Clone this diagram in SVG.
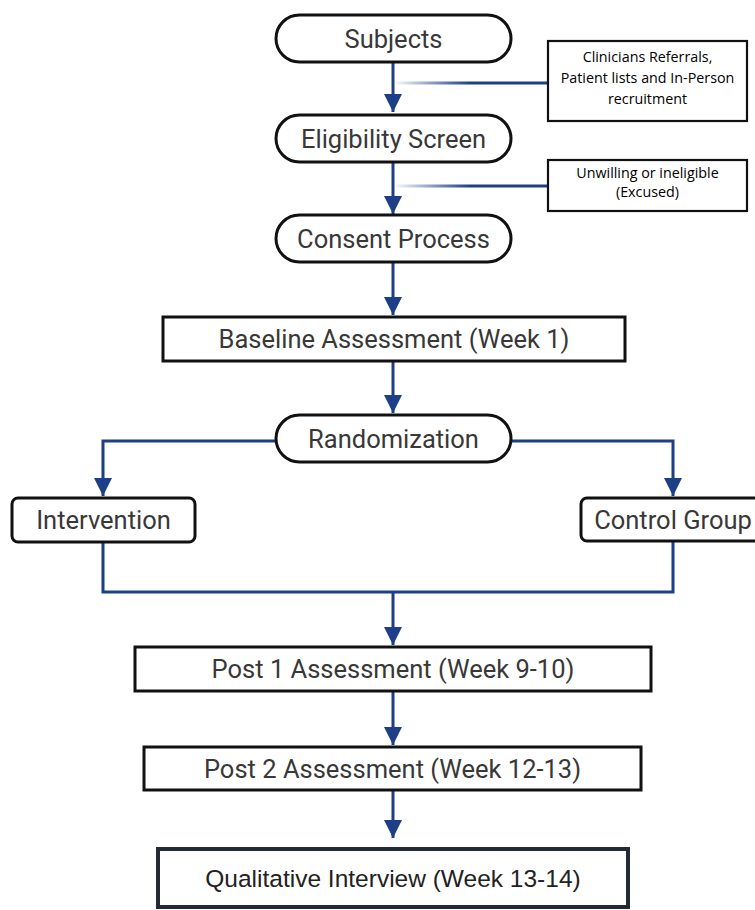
<svg xmlns="http://www.w3.org/2000/svg" width="755" height="910" viewBox="0 0 755 910">
<style>
.pill{fill:#fff;stroke:#111;stroke-width:3}
.box{fill:#fff;stroke:#111;stroke-width:3}
.note{fill:#fff;stroke:#111;stroke-width:2.2}
.lbl{font-family:Roboto,"Liberation Sans",sans-serif;font-size:25.5px;fill:#383838;text-anchor:middle;dominant-baseline:central}
.nt{font-family:"Open Sans","Noto Sans",sans-serif;font-size:14.3px;fill:#000;text-anchor:middle}
.ar{fill:none;stroke:#1d3f87;stroke-width:3}
.ln{fill:none;stroke:#1d3f87;stroke-width:3}
</style>
<defs>
<marker id="ah" viewBox="0 0 10 10" refX="10" refY="5" markerWidth="6" markerHeight="6" markerUnits="strokeWidth" orient="auto">
<path d="M0,0 L10,5 L0,10 z" fill="#1d3f87"/>
</marker>
<linearGradient id="fade" gradientUnits="userSpaceOnUse" x1="396" y1="0" x2="470" y2="0">
<stop offset="0" stop-color="#1d3f87" stop-opacity="0.05"/>
<stop offset="1" stop-color="#1d3f87" stop-opacity="1"/>
</linearGradient>
</defs>
<g id="connectors">
<line class="ar" x1="393" y1="62" x2="393" y2="112" marker-end="url(#ah)"/>
<line x1="396" y1="83" x2="548" y2="83" stroke="url(#fade)" stroke-width="3"/>
<line class="ar" x1="393" y1="162" x2="393" y2="214" marker-end="url(#ah)"/>
<line x1="396" y1="186" x2="548" y2="186" stroke="url(#fade)" stroke-width="3"/>
<line class="ar" x1="393" y1="262" x2="393" y2="315" marker-end="url(#ah)"/>
<line class="ar" x1="393" y1="361" x2="393" y2="413" marker-end="url(#ah)"/>
<polyline class="ar" points="276,441 103,441 103,496" marker-end="url(#ah)"/>
<polyline class="ar" points="511,441 673,441 673,496" marker-end="url(#ah)"/>
<polyline class="ln" points="103,542 103,592 673,592 673,541"/>
<line class="ar" x1="393" y1="592" x2="393" y2="645" marker-end="url(#ah)"/>
<line class="ar" x1="393" y1="691" x2="393" y2="745" marker-end="url(#ah)"/>
<line class="ar" x1="393" y1="790" x2="393" y2="838" marker-end="url(#ah)"/>
</g>
<g id="subjects">
<rect class="pill" x="276" y="15" width="235" height="47" rx="23.5"/>
<text class="lbl" x="393.5" y="39">Subjects</text>
</g>
<g id="recruitment">
<rect class="note" x="548" y="41" width="199" height="80"/>
<text class="nt" x="647.5" y="62">Clinicians Referrals,</text>
<text class="nt" x="647.5" y="83">Patient lists and In-Person</text>
<text class="nt" x="647.5" y="104">recruitment</text>
</g>
<g id="eligibility">
<rect class="pill" x="276" y="115" width="235" height="47" rx="23.5"/>
<text class="lbl" x="393.5" y="138.5">Eligibility Screen</text>
</g>
<g id="excused">
<rect class="note" x="548" y="160" width="199" height="51"/>
<text class="nt" x="647.5" y="178">Unwilling or ineligible</text>
<text class="nt" x="647.5" y="197">(Excused)</text>
</g>
<g id="consent">
<rect class="pill" x="276" y="215" width="235" height="47" rx="23.5"/>
<text class="lbl" x="393.5" y="238.5">Consent Process</text>
</g>
<g id="baseline">
<rect class="box" x="163" y="317" width="462" height="44"/>
<text class="lbl" x="394" y="339">Baseline Assessment (Week 1)</text>
</g>
<g id="randomization">
<rect class="pill" x="276" y="415" width="235" height="47" rx="23.5"/>
<text class="lbl" x="393.5" y="438.5">Randomization</text>
</g>
<g id="intervention">
<rect class="pill" x="12" y="498" width="183" height="44" rx="6"/>
<text class="lbl" x="103.5" y="520">Intervention</text>
</g>
<g id="control">
<rect class="pill" x="581" y="498" width="190" height="43" rx="6"/>
<text class="lbl" x="673" y="520">Control Group</text>
</g>
<g id="post1">
<rect class="box" x="135" y="647" width="516" height="44"/>
<text class="lbl" x="393" y="669">Post 1 Assessment (Week 9-10)</text>
</g>
<g id="post2">
<rect class="box" x="144" y="747" width="497" height="43"/>
<text class="lbl" x="392.5" y="768.5">Post 2 Assessment (Week 12-13)</text>
</g>
<g id="qualitative">
<rect x="158" y="849" width="470" height="58" fill="#fff" stroke="#222b35" stroke-width="4"/>
<text x="393" y="878" font-family="'Liberation Sans',Arial,sans-serif" font-size="24.5" fill="#222" text-anchor="middle" dominant-baseline="central">Qualitative Interview (Week 13-14)</text>
</g>
</svg>
